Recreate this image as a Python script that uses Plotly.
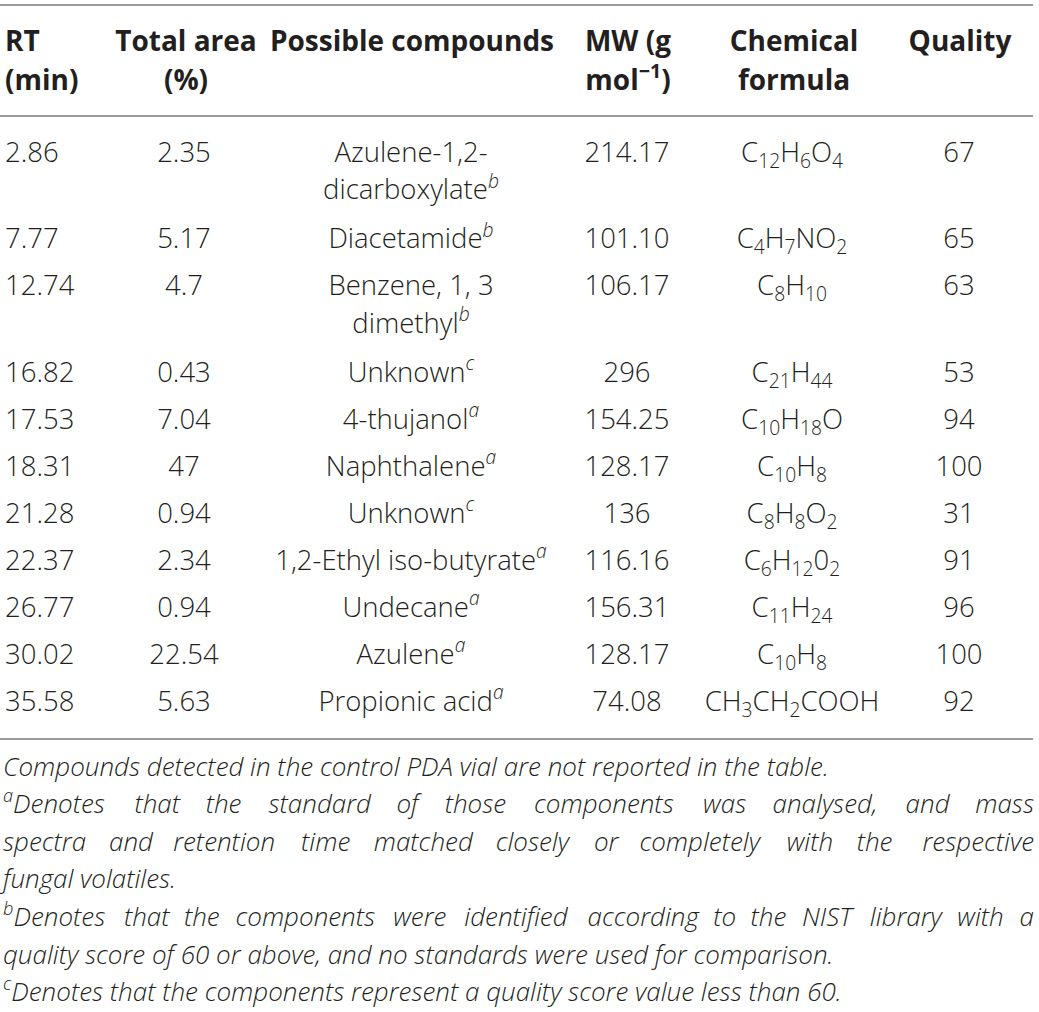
import re
import plotly.graph_objects as go

# ---------------- data ----------------
rt = ["2.86", "7.77", "12.74", "16.82", "17.53", "18.31", "21.28", "22.37", "26.77", "30.02", "35.58"]
total_area = ["2.35", "5.17", "4.7", "0.43", "7.04", "47", "0.94", "2.34", "0.94", "22.54", "5.63"]
compounds = [["Azulene-1,2-", "dicarboxylate"], ["Diacetamide"], ["Benzene, 1, 3", "dimethyl"],
             ["Unknown"], ["4-thujanol"], ["Naphthalene"], ["Unknown"], ["1,2-Ethyl iso-butyrate"],
             ["Undecane"], ["Azulene"], ["Propionic acid"]]
compound_notes = ["b", "b", "b", "c", "a", "a", "c", "a", "a", "a", "a"]
mw = ["214.17", "101.10", "106.17", "296", "154.25", "128.17", "136", "116.16", "156.31", "128.17", "74.08"]
formula = ["C<sub>12</sub>H<sub>6</sub>O<sub>4</sub>", "C<sub>4</sub>H<sub>7</sub>NO<sub>2</sub>",
           "C<sub>8</sub>H<sub>10</sub>", "C<sub>21</sub>H<sub>44</sub>", "C<sub>10</sub>H<sub>18</sub>O",
           "C<sub>10</sub>H<sub>8</sub>", "C<sub>8</sub>H<sub>8</sub>O<sub>2</sub>",
           "C<sub>6</sub>H<sub>12</sub>0<sub>2</sub>", "C<sub>11</sub>H<sub>24</sub>",
           "C<sub>10</sub>H<sub>8</sub>", "CH<sub>3</sub>CH<sub>2</sub>COOH"]
quality = ["67", "65", "63", "53", "94", "100", "31", "91", "96", "100", "92"]

headers = [["RT", "(min)"], ["Total area", "(%)"], ["Possible compounds"],
           ["MW (g", "mol<sup>\u22121</sup>)"], ["Chemical", "formula"], ["Quality"]]

footnote_lines = [
    "Compounds detected in the control PDA vial are not reported in the table.",
    "<sup>a</sup>Denotes that the standard of those components was analysed, and mass",
    "spectra and retention time matched closely or completely with the respective",
    "fungal volatiles.",
    "<sup>b</sup>Denotes that the components were identified according to the NIST library with a",
    "quality score of 60 or above, and no standards were used for comparison.",
    "<sup>c</sup>Denotes that the components represent a quality score value less than 60.",
]
footnote_justified = [False, True, True, False, True, False, False]

# ---------------- layout constants (pixels) ----------------
W, H = 1039, 1012
LEFT, RIGHT = 3, 1034
col_x = [5, 184, 411, 627, 792, 959]          # RT is left aligned, others centred
hdr_x = [5, 186, 412, 628, 794, 960]
RULES = [5, 116, 739]
HDR_Y0, HDR_PITCH = 44, 38.5
BODY_Y0, ROW_PITCH, EXTRA_LINE = 155, 47, 39.5
LINE_IN_CELL = 37.5
FOOT_Y0, FOOT_PITCH = 769, 37.6

INK = "#231f20"
FAM = "Open Sans"
body_font = dict(family=FAM, size=27.5, color=INK, weight=300)
hdr_font = dict(family=FAM, size=28, color=INK, weight=700)
foot_font = dict(family=FAM, size=26, color=INK, weight=300, style="italic")

fig = go.Figure()

# ---- header ----
for ci, lines in enumerate(headers):
    xs, ys, ts = [], [], []
    for li, t in enumerate(lines):
        xs.append(hdr_x[ci]); ys.append(HDR_Y0 + li * HDR_PITCH); ts.append(t)
    fig.add_trace(go.Scatter(x=xs, y=ys, text=ts, mode="text",
                             textposition="middle right" if ci == 0 else "middle center",
                             textfont=hdr_font, hoverinfo="skip", showlegend=False))

# ---- body ----
row_y = []
y = BODY_Y0
for i in range(len(rt)):
    row_y.append(y)
    y += ROW_PITCH + EXTRA_LINE * (len(compounds[i]) - 1)

def add_col(xv, ys, texts, pos="middle center"):
    fig.add_trace(go.Scatter(x=[xv] * len(ys), y=ys, text=texts, mode="text",
                             textposition=pos, textfont=body_font,
                             hoverinfo="skip", showlegend=False))

add_col(col_x[0], row_y, rt, "middle right")
add_col(col_x[1], row_y, total_area)
cy, ct = [], []
for i, lines in enumerate(compounds):
    for li, t in enumerate(lines):
        if li == len(lines) - 1:
            t = t + "<sup><i>" + compound_notes[i] + "</i></sup>"
        cy.append(row_y[i] + li * LINE_IN_CELL)
        ct.append(t)
add_col(col_x[2], cy, ct)
add_col(col_x[3], row_y, mw)
add_col(col_x[4], row_y, formula)
add_col(col_x[5], row_y, quality)

# ---- rules ----
for ry in RULES:
    fig.add_shape(type="line", x0=0, x1=1033, y0=ry, y1=ry, xref="x", yref="y",
                  line=dict(color="#9a9a9a", width=2))

# ---- footnotes (justified lines spread word by word) ----
ADV = {" ": .26, "a": .544, "b": .592, "c": .476, "d": .592, "e": .561, "f": .339, "g": .523,
       "h": .594, "i": .253, "j": .253, "k": .513, "l": .253, "m": .903, "n": .594, "o": .59,
       "p": .592, "q": .592, "r": .403, "s": .466, "t": .353, "u": .594, "v": .488, "w": .762,
       "x": .508, "y": .488, "z": .452, ",": .25, ".": .266, "-": .322,
       "C": .63, "D": .723, "N": .76, "I": .303, "S": .536, "T": .554, "P": .619, "A": .66}

def em_width(word):
    sup = re.findall(r"<sup>(.*?)</sup>", word)
    plain = re.sub(r"<sup>.*?</sup>", "", word)
    w = sum(ADV.get(ch, .57) for ch in plain)
    w += sum(0.7 * ADV.get(ch, .55) for s in sup for ch in s)
    return w * 0.97

for li, line in enumerate(footnote_lines):
    fy = FOOT_Y0 + li * FOOT_PITCH
    if not footnote_justified[li]:
        fig.add_trace(go.Scatter(x=[LEFT], y=[fy], text=[line], mode="text",
                                 textposition="middle right", textfont=foot_font,
                                 hoverinfo="skip", showlegend=False))
        continue
    words = line.split(" ")
    k = foot_font["size"]
    widths = [em_width(w) * k for w in words]
    gap = (RIGHT - LEFT - sum(widths)) / (len(words) - 1)
    xs, ts, ps = [], [], []
    x = LEFT
    for wi, wd in enumerate(words):
        if wi == len(words) - 1:
            xs.append(RIGHT); ps.append("middle left")
        else:
            xs.append(x); ps.append("middle right")
        ts.append(wd)
        x += widths[wi] + gap
    fig.add_trace(go.Scatter(x=xs, y=[fy] * len(xs), text=ts, mode="text",
                             textposition=ps, textfont=foot_font,
                             hoverinfo="skip", showlegend=False))

fig.update_layout(
    width=W, height=H, margin=dict(l=0, r=0, t=0, b=0),
    paper_bgcolor="white", plot_bgcolor="white", hovermode=False,
    xaxis=dict(range=[0, W], visible=False, fixedrange=True),
    yaxis=dict(range=[H, 0], visible=False, fixedrange=True),
)
fig.write_html("out.html", config={"displayModeBar": False},
               post_script="document.body.style.margin='0';document.body.style.overflow='hidden';")
